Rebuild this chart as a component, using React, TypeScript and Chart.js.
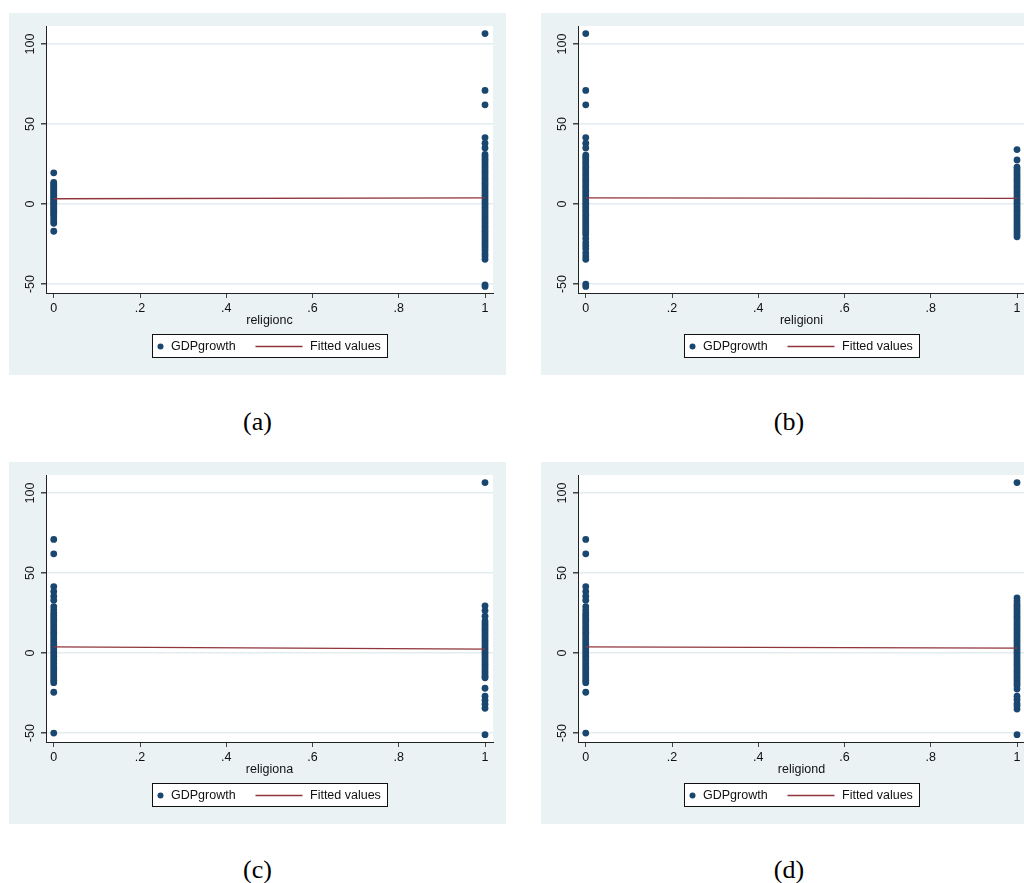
import React, { useEffect, useRef } from 'react';
import { Chart, registerables } from 'chart.js';

Chart.register(...registerables);

// ---- Data ----
const xTickValues = [0, 0.2, 0.4, 0.6, 0.8, 1];
const xTickLabels = ['0', '.2', '.4', '.6', '.8', '1'];
const yTickValues = [-50, 0, 50, 100];
const xTitles = ['religionc', 'religioni', 'religiona', 'religiond'];
const captions = ['(a)', '(b)', '(c)', '(d)'];
const seriesLabels = ['GDPgrowth', 'Fitted values'];

// GDP growth for dummy = 0 and dummy = 1, per panel
const aZero = [19.5, 13.5, 12.5, 11.5, 10.5, 9.5, 8.5, 7.5, 6.5, 5.5, 4.5, 3.5, 2.5, 1.5, 0.5, -0.5, -1.5, -2.5, -3.5, -4.5, -5.5, -6.5, -7.5, -9, -10.5, -12, -17];
const aOne = [106.5, 71, 62, 41.5, 38, 35, 31, 29.5, 28, 26.5, 25, 23.5, 22, 20.5, 19, 17.5, 16, 14.5, 13, 11.5, 10, 8.5, 7, 5.5, 4, 2.5, 1, -0.5, -2, -3.5, -5, -6.5, -8, -9.5, -11, -12.5, -14, -15.5, -17, -18.5, -20, -21.5, -23, -24.5, -26, -27.5, -29, -31, -32.5, -34.5, -50.5, -51.5];
const aFit = [3.3, 3.9];

const bZero = [106.5, 71, 62, 41.5, 38, 35, 30.5, 29, 27.5, 26, 24.5, 23, 21.5, 20, 18.5, 17, 15.5, 14, 12.5, 11, 9.5, 8, 6.5, 5, 3.5, 2, 0.5, -1, -2.5, -4, -5.5, -7, -8.5, -10, -11.5, -13, -14.5, -16, -17.5, -19, -21.5, -24, -26, -28, -30.5, -32.5, -34.5, -50, -51.5];
const bOne = [34, 27.5, 23, 21.5, 20, 18.5, 17, 15.5, 14, 12.5, 11, 9.5, 8, 6.5, 5, 3.5, 2, 0.5, -1, -2.5, -4, -5.5, -7, -8.5, -10, -11.5, -13, -14.5, -16, -17.5, -19, -20.5];
const bFit = [3.9, 3.5];

const cZero = [71, 62, 41.5, 38.5, 35.5, 33, 29, 27, 25, 23.5, 22, 20.5, 19, 17.5, 16, 14.5, 13, 11.5, 10, 8.5, 7, 5.5, 4, 2.5, 1, -0.5, -2, -3.5, -5, -6.5, -8, -9.5, -11, -12.5, -14, -15.5, -17, -18.5, -24.5, -50];
const cOne = [106.5, 29.5, 26.5, 23, 20, 18.5, 17, 15.5, 14, 12.5, 11, 9.5, 8, 6.5, 5, 3.5, 2, 0.5, -1, -2.5, -4, -5.5, -7, -8.5, -10, -11.5, -13, -14.5, -15.5, -22, -27, -29.5, -32, -34.5, -51];
const cFit = [3.8, 2.5];

const dZero = [71, 62, 41.5, 38.5, 35.5, 33, 29, 27, 25, 23.5, 22, 20.5, 19, 17.5, 16, 14.5, 13, 11.5, 10, 8.5, 7, 5.5, 4, 2.5, 1, -0.5, -2, -3.5, -5, -6.5, -8, -9.5, -11, -12.5, -14, -15.5, -17, -18.5, -24.5, -50];
const dOne = [106.5, 34.5, 32.5, 30.5, 29, 27.5, 26, 24.5, 23, 21.5, 20, 18.5, 17, 15.5, 14, 12.5, 11, 9.5, 8, 6.5, 5, 3.5, 2, 0.5, -1, -2.5, -4, -5.5, -7, -8.5, -10, -11.5, -13, -14.5, -16, -17.5, -19, -20.5, -22.5, -27, -29, -31.5, -33, -35, -51];
const dFit = [3.8, 3.1];

const panelZero = [aZero, bZero, cZero, dZero];
const panelOne = [aOne, bOne, cOne, dOne];
const panelFit = [aFit, bFit, cFit, dFit];

// ---- Styling ----
const BG = '#EAF2F3';
const GRID = '#E3ECEE';
const NAVY = '#1A476F';
const MAROON = '#90353B';
const FONT = '"Liberation Sans", Arial, sans-serif';
const PANEL_W = 497;
const PANEL_H = 362;

const panelPos = [
  { left: 9, top: 13 },
  { left: 541, top: 13 },
  { left: 9, top: 462 },
  { left: 541, top: 462 },
];
const captionPos = [
  { cx: 257.5, top: 406.7 },
  { cx: 789, top: 406.7 },
  { cx: 257.5, top: 854.7 },
  { cx: 789, top: 854.7 },
];

const stataPlugin = {
  id: 'stataDecor',
  beforeDraw(chart: any) {
    const { ctx, chartArea } = chart;
    ctx.save();
    ctx.fillStyle = BG;
    ctx.fillRect(0, 0, chart.width, chart.height);
    ctx.fillStyle = '#FFFFFF';
    ctx.fillRect(chartArea.left, chartArea.top, chartArea.right - chartArea.left, chartArea.bottom - chartArea.top);
    ctx.restore();
  },
  afterDraw(chart: any) {
    const { ctx, chartArea } = chart;
    const title = chart.options.plugins.stataDecor.title;
    const cx = (chartArea.left + chartArea.right) / 2;
    ctx.save();
    ctx.fillStyle = '#111';
    ctx.font = `12.5px ${FONT}`;
    ctx.textAlign = 'center';
    ctx.textBaseline = 'middle';
    ctx.fillText(title, cx, chartArea.bottom + 28);

    // legend box
    const bw = 235;
    const bh = 23;
    const bx = Math.round(cx - bw / 2) + 0.5;
    const by = chartArea.bottom + 41.5;
    ctx.fillStyle = '#FFFFFF';
    ctx.fillRect(bx, by, bw, bh);
    ctx.strokeStyle = '#111';
    ctx.lineWidth = 1;
    ctx.strokeRect(bx, by, bw, bh);
    const ly = by + bh / 2 + 0.5;
    ctx.fillStyle = NAVY;
    ctx.beginPath();
    ctx.arc(bx + 8, ly, 3, 0, Math.PI * 2);
    ctx.fill();
    ctx.fillStyle = '#111';
    ctx.textAlign = 'left';
    ctx.fillText(seriesLabels[0], bx + 18.5, ly);
    ctx.strokeStyle = MAROON;
    ctx.lineWidth = 1.3;
    ctx.beginPath();
    ctx.moveTo(bx + 103, ly);
    ctx.lineTo(bx + 150, ly);
    ctx.stroke();
    ctx.fillStyle = '#111';
    ctx.fillText(seriesLabels[1], bx + 157.5, ly);
    ctx.restore();
  },
};

function Panel({ idx }: { idx: number }) {
  const ref = useRef<HTMLCanvasElement | null>(null);
  useEffect(() => {
    if (!ref.current) return;
    const scatterData = [
      ...panelZero[idx].map((y) => ({ x: 0, y })),
      ...panelOne[idx].map((y) => ({ x: 1, y })),
    ];
    const fit = panelFit[idx];
    const chart = new Chart(ref.current, {
      type: 'scatter',
      data: {
        datasets: [
          {
            type: 'line',
            label: seriesLabels[1],
            data: [
              { x: 0, y: fit[0] },
              { x: 1, y: fit[1] },
            ],
            borderColor: MAROON,
            borderWidth: 1.3,
            pointRadius: 0,
            fill: false,
            order: 1,
          } as any,
          {
            label: seriesLabels[0],
            data: scatterData,
            backgroundColor: NAVY,
            borderColor: NAVY,
            borderWidth: 0,
            pointRadius: 3.4,
            order: 2,
          },
        ],
      },
      options: {
        responsive: false,
        animation: false,
        events: [],
        layout: { padding: { left: 0, top: 13, right: 13, bottom: 0 } },
        plugins: {
          legend: { display: false },
          tooltip: { enabled: false },
          stataDecor: { title: xTitles[idx] },
        } as any,
        scales: {
          x: {
            type: 'linear',
            min: -0.018,
            max: 1.0185,
            afterBuildTicks: (s: any) => {
              s.ticks = xTickValues.map((v) => ({ value: v }));
            },
            afterFit: (s: any) => {
              s.height = 82;
            },
            ticks: {
              autoSkip: false,
              maxRotation: 0,
              minRotation: 0,
              padding: 3,
              color: '#111',
              font: { family: FONT, size: 12.5 },
              callback: (v: any) => {
                const i = xTickValues.findIndex((t) => Math.abs(t - Number(v)) < 1e-9);
                return i >= 0 ? xTickLabels[i] : '';
              },
            },
            grid: {
              display: true,
              drawOnChartArea: false,
              drawTicks: true,
              tickLength: 5,
              tickColor: '#444',
            },
            border: { display: true, color: '#222', width: 1 },
          },
          y: {
            type: 'linear',
            min: -55.6,
            max: 111.25,
            afterBuildTicks: (s: any) => {
              s.ticks = yTickValues.map((v) => ({ value: v }));
            },
            afterFit: (s: any) => {
              s.width = 37;
            },
            ticks: {
              minRotation: 90,
              maxRotation: 90,
              crossAlign: 'center',
              padding: 0,
              color: '#111',
              font: { family: FONT, size: 12.5 },
              callback: (v: any) => String(v),
            },
            grid: {
              display: true,
              drawOnChartArea: true,
              drawTicks: true,
              tickLength: 5,
              color: GRID,
              lineWidth: 1.5,
              tickColor: '#444',
            },
            border: { display: true, color: '#222', width: 1 },
          },
        },
      },
      plugins: [stataPlugin],
    } as any);
    return () => chart.destroy();
  }, [idx]);

  return (
    <canvas
      ref={ref}
      width={PANEL_W}
      height={PANEL_H}
      style={{
        position: 'absolute',
        left: panelPos[idx].left,
        top: panelPos[idx].top,
        width: PANEL_W,
        height: PANEL_H,
      }}
    />
  );
}

export default function App() {
  return (
    <div
      style={{
        position: 'fixed',
        left: 0,
        top: 0,
        width: 1024,
        height: 883,
        overflow: 'hidden',
        background: '#FFFFFF',
      }}
    >
      {[0, 1, 2, 3].map((i) => (
        <Panel key={i} idx={i} />
      ))}
      {captions.map((c, i) => (
        <div
          key={c}
          style={{
            position: 'absolute',
            left: captionPos[i].cx - 60,
            top: captionPos[i].top,
            width: 120,
            textAlign: 'center',
            fontFamily: '"Liberation Serif", "Times New Roman", serif',
            fontSize: 26,
            lineHeight: '30px',
            color: '#000',
          }}
        >
          {c}
        </div>
      ))}
    </div>
  );
}
